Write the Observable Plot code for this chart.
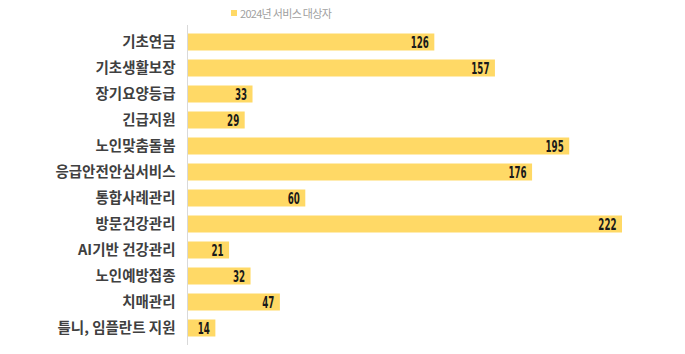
<!DOCTYPE html>
<html><head><meta charset="utf-8">
<script src="https://cdn.jsdelivr.net/npm/d3@7"></script>
<script src="https://cdn.jsdelivr.net/npm/@observablehq/plot@0.6"></script>
<style>
body{margin:0;background:#fff;}
#wrap{position:relative;width:685px;height:354px;}
#legend{position:absolute;left:231px;top:5px;font-family:"Noto Sans CJK KR",sans-serif;font-size:11px;color:#a0a0a0;display:flex;align-items:center;gap:3px;letter-spacing:-0.7px;}
#legend span.sw{display:inline-block;width:6px;height:6px;background:#ffd966;}
</style></head>
<body><div id="wrap"><div id="legend"><span class="sw"></span><span>2024년 서비스 대상자</span></div></div>
<script>
const categories = ["기초연금","기초생활보장","장기요양등급","긴급지원","노인맞춤돌봄","응급안전안심서비스","통합사례관리","방문건강관리","AI기반 건강관리","노인예방접종","치매관리","틀니, 임플란트 지원"];
const values = [126,157,33,29,195,176,60,222,21,32,47,14];
const seriesName = "2024년 서비스 대상자";
const data = categories.map((c,i)=>({category:c, value:values[i]}));

const chart = Plot.plot({
  width: 685,
  height: 354,
  marginLeft: 188,
  marginRight: 63,
  marginTop: 25,
  marginBottom: 9,
  style: {fontFamily: "'Noto Sans CJK KR', sans-serif", background: "#fff"},
  x: {domain: [0, 222], axis: null},
  y: {domain: categories, padding: 0, label: null},
  marks: [
    Plot.barX(data, {y: "category", x: "value", fill: "#ffd966", insetTop: 4.5, insetBottom: 4.5}),
    Plot.ruleX([0], {stroke: "#d9d9d9", strokeWidth: 1, dx: -1}),
    Plot.text(data, {y: "category", x: "value", text: d => String(d.value), textAnchor: "end", dx: -6, dy: 0.5,
      fill: "#1a1a1a", fontSize: 15, fontWeight: "bold", className: "num",
      fontFamily: "'DejaVu Sans',sans-serif"}),
    Plot.axisY({tickSize: 0, tickPadding: 13, fontSize: 14.5, fill: "#404040", fontWeight: 600, label: null})
  ]
});
document.getElementById("wrap").prepend(chart);
chart.style.position = "absolute"; chart.style.left = "0"; chart.style.top = "0";
document.getElementById("legend").style.zIndex = 2;
// condense the value labels horizontally
chart.querySelectorAll("g.num text").forEach(t => {
  const w = t.getComputedTextLength();
  t.setAttribute("textLength", (w * 0.58).toFixed(2));
  t.setAttribute("lengthAdjust", "spacingAndGlyphs");
});
</script></body></html>
